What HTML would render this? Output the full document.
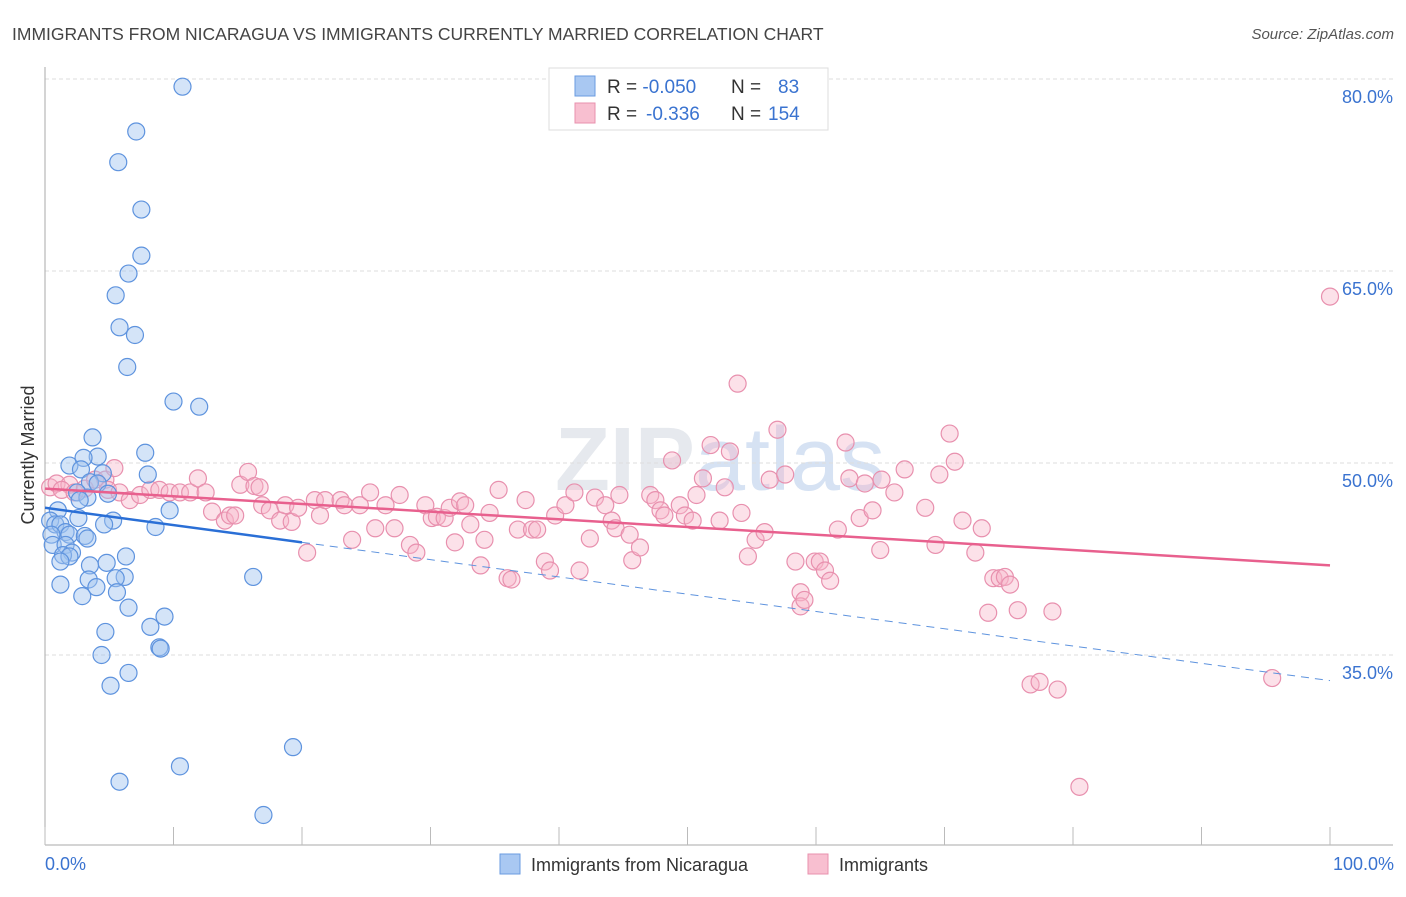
<!DOCTYPE html>
<html><head><meta charset="utf-8"><style>
body{margin:0;background:#fff;font-family:"Liberation Sans",sans-serif;}
svg text{font-family:"Liberation Sans",sans-serif;}
</style></head><body>
<svg id="chart" width="1406" height="892">
<text x="12" y="40" font-size="17.5" fill="#444">IMMIGRANTS FROM NICARAGUA VS IMMIGRANTS CURRENTLY MARRIED CORRELATION CHART</text>
<text x="1394" y="39" font-size="15" fill="#555" font-style="italic" text-anchor="end">Source: ZipAtlas.com</text>
<text x="720" y="490" font-size="90" fill="#e6e9ee" text-anchor="middle" font-weight="bold">ZIP<tspan fill="#d6e2f3" font-weight="normal">atlas</tspan></text>
<g id="grid"></g>
<g id="axes"></g>
<g id="pts"></g>
<g id="trend"></g>
<text x="34" y="455" font-size="18" fill="#333" text-anchor="middle" transform="rotate(-90 34 455)">Currently Married</text>
<text x="45" y="870" font-size="18" fill="#3a73d0">0.0%</text>
<text x="1394" y="870" font-size="18" fill="#3a73d0" text-anchor="end">100.0%</text>
<g>
<rect x="549" y="68" width="279" height="62" fill="#fff" stroke="#ddd"/>
<rect x="575" y="76" width="20" height="20" fill="#a9c8f2" stroke="#6a9be0"/>
<rect x="575" y="103" width="20" height="20" fill="#f8bfd0" stroke="#e890ae"/>
<text x="607" y="93" font-size="19" fill="#333">R = <tspan fill="#3a73d0">-0.050</tspan><tspan x="731">N = </tspan><tspan x="778" fill="#3a73d0">83</tspan></text>
<text x="607" y="120" font-size="19" fill="#333">R = <tspan x="646" fill="#3a73d0">-0.336</tspan><tspan x="731">N = </tspan><tspan x="768" fill="#3a73d0">154</tspan></text>
</g>
<g>
<rect x="500" y="854" width="20" height="20" fill="#a9c8f2" stroke="#6a9be0"/>
<text x="531" y="871" font-size="18" fill="#333">Immigrants from Nicaragua</text>
<rect x="808" y="854" width="20" height="20" fill="#f8bfd0" stroke="#e890ae"/>
<text x="839" y="871" font-size="18" fill="#333">Immigrants</text>
</g>
</svg>
<script>
const yTicks=[80,65,50,35];
const yTickLabels=["80.0%","65.0%","50.0%","35.0%"];
const xTicks=[0,10,20,30,40,50,60,70,80,90,100];
const blueX=[10.7,7.1,5.7,7.5,7.5,6.5,5.5,5.8,7.0,6.4,10.0,12.0,3.7,7.8,1.9,4.1,3.0,8.0,2.8,4.5,3.5,4.1,4.9,2.5,3.3,2.7,9.7,1.0,2.6,5.3,4.6,8.6,0.4,0.8,1.2,1.6,0.5,1.9,3.1,3.3,0.6,1.6,2.1,1.4,1.9,6.3,1.2,4.8,3.5,16.2,6.2,3.4,5.5,1.2,4.0,5.6,2.9,6.5,9.3,8.2,4.7,8.9,9.0,4.4,6.5,5.1,19.3,10.5,5.8,17.0];
const blueY=[79.4,75.9,73.5,69.8,66.2,64.8,63.1,60.6,60.0,57.5,54.8,54.4,52.0,50.8,49.8,50.5,50.4,49.1,49.5,49.2,48.5,48.4,47.6,47.7,47.3,47.1,46.3,46.3,45.7,45.5,45.2,45.0,45.5,45.2,45.2,44.6,44.4,44.4,44.3,44.1,43.6,43.6,43.0,42.8,42.7,42.7,42.3,42.2,42.0,41.1,41.1,40.9,41.0,40.5,40.3,39.9,39.6,38.7,38.0,37.2,36.8,35.6,35.5,35.0,33.6,32.6,27.8,26.3,25.1,22.5];
const pinkX=[0.4,0.9,1.9,1.3,2.3,3.1,3.9,4.7,5.4,4.9,5.8,6.6,7.4,8.2,8.9,9.7,10.5,11.3,11.9,12.5,13.0,14.0,14.4,14.8,15.2,15.8,16.3,16.7,16.9,17.5,18.3,18.7,19.2,19.7,20.4,21.0,21.4,21.8,23.0,23.3,23.9,24.5,25.3,25.7,26.5,27.2,27.6,28.4,28.9,29.6,30.1,30.5,31.1,31.5,31.9,32.3,32.7,33.1,33.9,34.2,34.6,35.3,36.0,36.3,36.8,37.4,37.9,38.3,38.9,39.3,39.7,40.5,41.2,41.6,42.4,42.8,43.6,44.1,44.4,44.7,45.5,45.7,46.3,47.1,47.5,47.9,48.2,48.8,49.4,49.8,50.4,50.7,51.2,51.8,52.5,52.9,53.3,53.9,54.2,54.7,55.3,56.0,56.4,57.0,57.6,58.4,58.8,58.8,59.1,59.9,60.3,60.7,61.1,61.7,62.3,62.6,63.4,63.8,64.4,65.0,65.1,66.1,66.9,68.5,69.3,69.6,70.4,70.8,71.4,72.4,72.9,73.4,73.8,74.3,74.7,75.1,75.7,76.7,77.4,78.4,78.8,80.5,95.5,100];
const pinkY=[48.1,48.4,48.3,47.9,47.7,48.0,48.7,48.7,49.6,47.9,47.7,47.1,47.5,47.9,47.9,47.7,47.7,47.7,48.8,47.7,46.2,45.5,45.9,45.9,48.3,49.3,48.2,48.1,46.7,46.3,45.5,46.7,45.4,46.5,43.0,47.1,45.9,47.1,47.1,46.7,44.0,46.7,47.7,44.9,46.7,44.9,47.5,43.6,43.0,46.7,45.7,45.8,45.7,46.5,43.8,47.0,46.7,45.2,42.0,44.0,46.1,47.9,41.0,40.9,44.8,47.1,44.8,44.8,42.3,41.6,45.9,46.7,47.7,41.6,44.1,47.3,46.7,45.5,44.9,47.5,44.4,42.4,43.4,47.5,47.1,46.3,45.9,50.2,46.7,45.9,45.5,47.5,48.8,51.4,45.5,48.1,50.9,56.2,46.1,42.7,44.0,44.6,48.7,52.6,49.1,42.3,39.9,38.8,39.3,42.3,42.3,41.6,40.8,44.8,51.6,48.8,45.7,48.4,46.3,43.2,48.7,47.7,49.5,46.5,43.6,49.1,52.3,50.1,45.5,43.0,44.9,38.3,41.0,41.0,41.1,40.5,38.5,32.7,32.9,38.4,32.3,24.7,33.2,63.0];
const blueTrend=[46.5,33.0];
const pinkTrend=[48.0,42.0];
const blueSolidEnd=20;

const NS="http://www.w3.org/2000/svg";
const X0=45,X1=1330,Y80=79,PXPER=12.8;
function sx(v){return X0+(X1-X0)*v/100;}
function sy(v){return Y80+(80-v)*PXPER;}
function mk(tag,attrs,parent){const e=document.createElementNS(NS,tag);for(const k in attrs)e.setAttribute(k,attrs[k]);parent.appendChild(e);return e;}
const grid=document.getElementById('grid'),axes=document.getElementById('axes'),pts=document.getElementById('pts'),trend=document.getElementById('trend');
yTicks.forEach((t,i)=>{
  const l=mk('line',{x1:X0,x2:1393,y1:sy(t),y2:sy(t),stroke:'#ddd','stroke-dasharray':'4 3'},grid);
  
  
  const tx=mk('text',{x:1393,y:sy(t)+24,'font-size':18,fill:'#3a73d0','text-anchor':'end'},grid);
  tx.textContent=yTickLabels[i];
  
  
});
const ya=mk('line',{x1:X0,x2:X0,y1:67,y2:845,stroke:'#aaa'},axes);


const xa=mk('line',{x1:X0,x2:1393,y1:845,y2:845,stroke:'#aaa'},axes);


xTicks.forEach(t=>{
  const l=mk('line',{x1:sx(t),x2:sx(t),y1:827,y2:845,stroke:'#bbb'},axes);
  
  
});
function dots(xs,ys,fill,stroke,name){
  xs.forEach((x,i)=>{
    const c=mk('circle',{cx:sx(x),cy:sy(ys[i]),r:8.5,fill:fill,stroke:stroke,'stroke-width':1.2},pts);
    
    
  });
}
dots(pinkX,pinkY,'rgba(248,180,200,0.4)','#e890ae','pink-point');
dots(blueX,blueY,'rgba(160,196,240,0.45)','#5e93de','blue-point');
function ty(tr,x){return tr[0]+(tr[1]-tr[0])*x/100;}
const bs=mk('line',{x1:sx(0),y1:sy(ty(blueTrend,0)),x2:sx(blueSolidEnd),y2:sy(ty(blueTrend,blueSolidEnd)),stroke:'#2a6fd6','stroke-width':2.5},trend);


const bd=mk('line',{x1:sx(blueSolidEnd),y1:sy(ty(blueTrend,blueSolidEnd)),x2:sx(100),y2:sy(ty(blueTrend,100)),stroke:'#5e93de','stroke-width':1,'stroke-dasharray':'8 6'},trend);


const pl=mk('line',{x1:sx(0),y1:sy(ty(pinkTrend,0)),x2:sx(100),y2:sy(ty(pinkTrend,100)),stroke:'#e8608e','stroke-width':2.5},trend);


</script>
</body></html>
